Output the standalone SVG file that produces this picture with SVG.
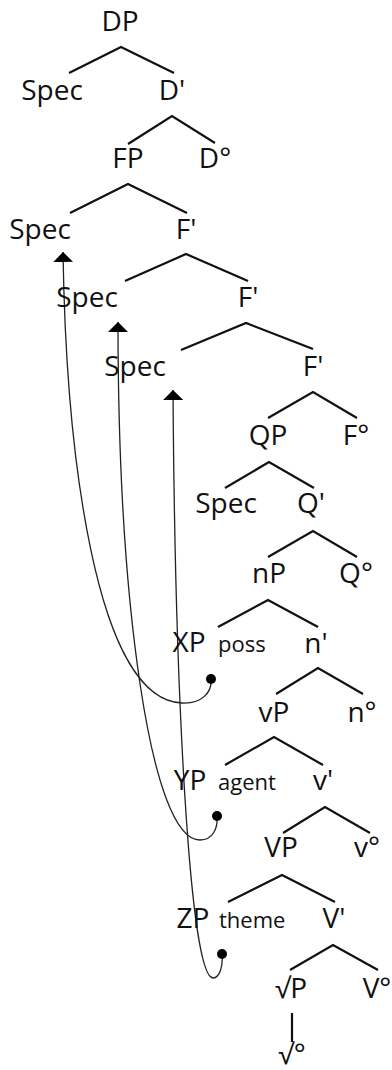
<svg xmlns="http://www.w3.org/2000/svg" width="392" height="1070" viewBox="0 0 392 1070">
<style>
.l{font-family:"Open Sans","DejaVu Sans",sans-serif;font-size:28px;fill:#111;text-anchor:middle}
.s{font-family:"Open Sans","DejaVu Sans",sans-serif;font-size:22px;fill:#111}
.b{fill:none;stroke:#111;stroke-width:2.2;stroke-linecap:butt;stroke-linejoin:miter}
.m{fill:none;stroke:#222;stroke-width:1.3}
.d{fill:#000}
</style>
<defs>
<marker id="ah" markerUnits="userSpaceOnUse" markerWidth="10" markerHeight="20" viewBox="0 0 10 20" refX="10" refY="10" orient="auto-start-reverse">
<path d="M0,0 L10,10 L0,20 z" fill="#000"/>
</marker>
</defs>
<rect width="392" height="1070" fill="#fff"/>
<g id="connectors">
<polyline class="b" points="69,73 121,47 174,73"/>
<polyline class="b" points="128,144 172,116 215,143"/>
<polyline class="b" points="70,213 128,184 187,213"/>
<polyline class="b" points="125,281 186,254 248,281"/>
<polyline class="b" points="181,350 246,323 313,349"/>
<polyline class="b" points="268,418 313,392 357,418"/>
<polyline class="b" points="225,488 269,462 314,488"/>
<polyline class="b" points="268,557 313,531 357,557"/>
<polyline class="b" points="218,627 268,600 318,627"/>
<polyline class="b" points="276,694 318,668 363,694"/>
<polyline class="b" points="225,765 274,737 323,765"/>
<polyline class="b" points="283,833 325,807 370,833"/>
<polyline class="b" points="228,902 282,875 335,902"/>
<polyline class="b" points="290,970 333,945 378,970"/>
<line class="b" x1="292" y1="1013" x2="292" y2="1042" stroke-width="2.6"/>
<path class="m" marker-start="url(#ah)" d="M63,252 C66,450 95,700 182,703 C202,704 212,692 211,680"/>
<path class="m" marker-start="url(#ah)" d="M118,322 C118,600 150,840 200,840 C213,840 218,828 217,816"/>
<path class="m" marker-start="url(#ah)" d="M173,390 C175,700 190,978 213,978 C220,978 223,965 222,955"/>
<circle class="d" cx="211" cy="679" r="5"/>
<circle class="d" cx="217" cy="816" r="5"/>
<circle class="d" cx="222" cy="954" r="5"/>
</g>
<g id="n-DP"><text class="l" x="120" y="31">DP</text></g>
<g id="n-SpecD"><text class="l" x="52" y="100">Spec</text></g>
<g id="n-Dbar"><text class="l" x="172" y="100">D'</text></g>
<g id="n-FP"><text class="l" x="128" y="168">FP</text></g>
<g id="n-D0"><text class="l" x="215" y="168">D°</text></g>
<g id="n-Spec1"><text class="l" x="40" y="239">Spec</text></g>
<g id="n-Fbar1"><text class="l" x="186" y="239">F'</text></g>
<g id="n-Spec2"><text class="l" x="87" y="307">Spec</text></g>
<g id="n-Fbar2"><text class="l" x="248" y="307">F'</text></g>
<g id="n-Spec3"><text class="l" x="135" y="376">Spec</text></g>
<g id="n-Fbar3"><text class="l" x="313" y="376">F'</text></g>
<g id="n-QP"><text class="l" x="268" y="445">QP</text></g>
<g id="n-F0"><text class="l" x="356" y="445">F°</text></g>
<g id="n-SpecQ"><text class="l" x="226" y="513">Spec</text></g>
<g id="n-Qbar"><text class="l" x="311" y="513">Q'</text></g>
<g id="n-nP"><text class="l" x="269" y="583">nP</text></g>
<g id="n-Q0"><text class="l" x="356" y="583">Q°</text></g>
<g id="n-XP"><text class="l" x="189" y="652">XP</text><text class="s" x="218" y="652">poss</text></g>
<g id="n-nbar"><text class="l" x="316" y="653">n'</text></g>
<g id="n-vP"><text class="l" x="274" y="722">vP</text></g>
<g id="n-n0"><text class="l" x="362" y="722">n°</text></g>
<g id="n-YP"><text class="l" x="190" y="790">YP</text><text class="s" x="218" y="790">agent</text></g>
<g id="n-vbar"><text class="l" x="323" y="790">v'</text></g>
<g id="n-VP"><text class="l" x="281" y="857">VP</text></g>
<g id="n-v0"><text class="l" x="367" y="857">v°</text></g>
<g id="n-ZP"><text class="l" x="193" y="928">ZP</text><text class="s" x="219" y="928">theme</text></g>
<g id="n-Vbar"><text class="l" x="334" y="928">V'</text></g>
<g id="n-rootP"><text class="l" x="291" y="998">√P</text></g>
<g id="n-V0"><text class="l" x="377" y="998">V°</text></g>
<g id="n-root0"><text class="l" x="292" y="1064">√°</text></g>
</svg>
